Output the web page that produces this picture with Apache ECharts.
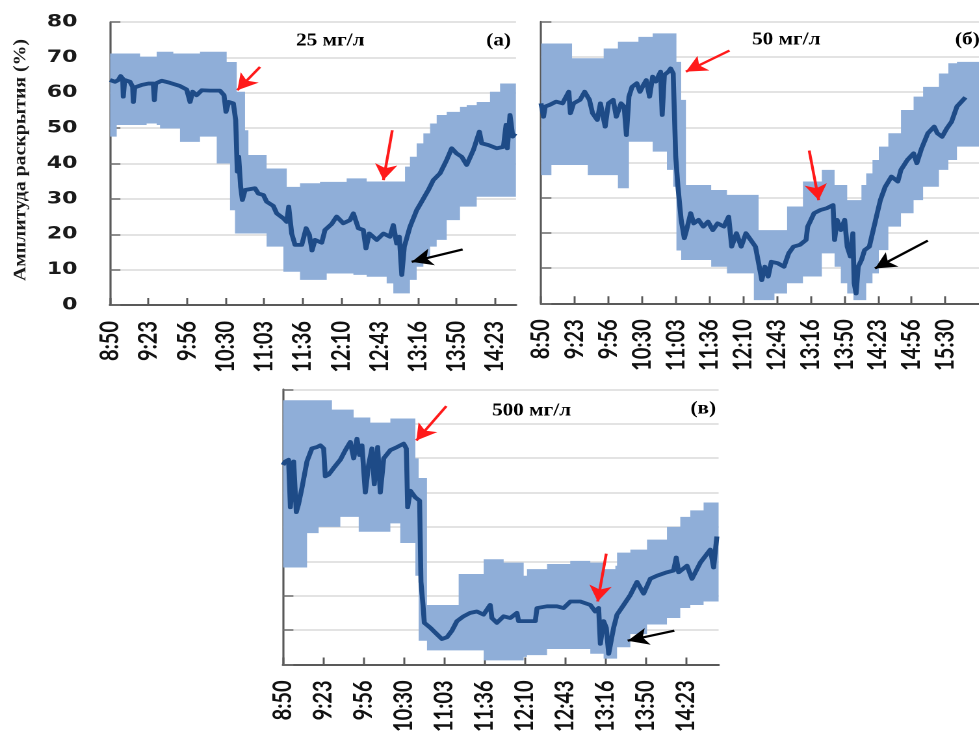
<!DOCTYPE html>
<html><head><meta charset="utf-8">
<script src="https://cdn.jsdelivr.net/npm/echarts@6/dist/echarts.min.js"></script>
<style>
html,body{margin:0;padding:0;background:#fff;overflow:hidden;width:979px;height:735px}
#c{width:753.08px;height:735px;transform:scaleX(1.3);transform-origin:0 0}
</style>
</head><body><div id="c"></div>
<script>
// ---------- tick labels (one every 33 min 20 s = 2000 s from 8:50) ----------
const ticksA = ['8:50','9:23','9:56','10:30','11:03','11:36','12:10','12:43','13:16','13:50','14:23'];
const ticksB = ['8:50','9:23','9:56','10:30','11:03','11:36','12:10','12:43','13:16','13:50','14:23','14:56','15:30'];
const ticksC = ['8:50','9:23','9:56','10:30','11:03','11:36','12:10','12:43','13:16','13:50','14:23'];

// ---------- panel (а) 25 мг/л : minutes after 8:50 ----------
const aBandT  = [0,5.8,26.0,31.7,40.4,43.3,54.8,60.6,77.9,92.4,101.0,103.9,108.2,109.7,116.9,119.8,135.6,150.1,153.0,164.5,181.8,187.6,204.9,210.7,222.2,239.5,245.3,255.4,259.7,265.5,271.3,277.1,282.8,291.5,303.0,308.8,317.5,329.0,337.7,351.5];
const aBandHi = [71.1,71.1,70.2,70.2,71.6,71.6,71.1,71.1,71.6,71.6,68.7,68.7,68.7,60.3,49.4,42.4,38.6,38.6,33.4,34.4,34.8,34.8,35.8,35.8,34.9,34.9,34.9,39.1,41.9,45.7,48.5,51.3,53.7,54.6,56.0,56.5,57.4,60.3,62.6,62.6];
const aBandLo = [47.6,50.9,50.9,51.3,50.9,49.9,49.9,46.1,47.6,40.0,40.0,26.8,20.2,20.2,20.2,20.2,16.5,9.4,9.4,7.1,7.1,8.9,8.9,8.5,8.0,6.1,3.3,3.3,7.1,10.8,13.7,16.5,18.4,24.0,27.8,27.8,30.6,30.6,30.6,30.6];
const aMeanT = [0,4.3,7.2,9.2,11.0,11.5,12.7,17.3,19.6,20.2,21.4,27.4,33.2,37.5,38.4,39.5,44.7,51.9,60.6,66.4,69.3,71.6,75.0,79.4,86.6,95.2,98.7,100.4,102.7,106.8,108.8,110.2,111.4,113.1,114.6,116.9,125.5,128.4,132.8,135.6,141.4,144.3,150.1,153.0,154.7,157.3,160.2,166.0,169.8,172.6,174.9,177.5,183.3,186.1,191.9,196.2,202.0,207.8,210.7,215.0,219.3,221.6,224.5,230.9,236.7,242.4,245.3,248.2,250.5,252.6,254.8,259.7,265.5,269.8,275.6,279.9,285.7,291.5,295.8,300.2,304.5,308.8,314.6,319.8,321.8,327.6,334.8,340.6,342.9,344.0,346.3,348.7,350.7];
const aMean  = [63.6,63.1,63.6,64.7,64.0,58.9,63.6,63.1,61.7,57.4,61.5,62.2,62.6,62.6,57.9,62.6,63.4,62.8,61.9,60.9,57.4,60.3,59.3,60.7,60.6,60.6,59.3,54.6,57.4,57.0,52.3,37.7,41.9,33.4,29.7,32.5,33.0,31.5,31.1,29.2,28.0,25.9,24.5,23.5,27.8,20.2,17.0,17.0,21.7,19.8,15.4,18.4,17.6,21.2,22.9,25.0,23.1,24.0,25.9,21.7,21.2,16.0,20.2,18.4,20.2,19.3,22.6,17.4,19.3,8.5,16.5,22.1,26.8,29.2,32.5,35.3,37.2,41.0,44.3,42.8,41.9,39.6,43.8,49.0,45.7,45.2,44.3,44.7,50.9,44.3,53.7,47.6,48.5];
const aRedArrows   = [[[129.9,67.3],[110.2,60.7]], [[244.4,49.4],[236.7,35.3]]];
const aBlackArrows = [[[305.3,15.7],[261.2,12.2]]];

// ---------- panel (б) 50 мг/л ----------
const bBandT  = [0,10.3,30.7,46.3,62.0,76.1,87.0,96.4,110.5,124.6,130.8,134.0,138.7,143.4,168.4,184.0,210.6,215.3,231.0,243.5,259.2,277.9,290.5,296.7,303.0,309.2,317.1,321.8,328.0,334.3,343.7,356.2,368.7,378.1,393.8,403.1,411.6,434.4];
const bBandHi = [73.8,73.8,69.6,69.6,72.4,74.3,74.3,75.7,76.7,76.7,76.7,68.6,57.8,33.6,32.2,30.8,30.8,20.8,20.8,27.5,34.6,37.9,33.6,33.6,29.3,29.3,33.6,36.9,40.7,44.5,48.3,54.9,58.7,61.5,65.3,68.2,68.6,68.6];
const bBandLo = [36.4,39.3,39.3,36.4,36.4,32.7,45.9,45.9,43.1,37.9,33.1,15.0,12.3,12.3,10.4,8.5,0.9,0.9,2.8,5.7,7.6,14.2,10.4,5.7,2.8,0.9,0.9,5.7,8.5,15.1,21.8,25.6,29.3,33.1,37.9,40.7,44.5,44.5];
const bMeanT = [0,2.5,4.1,8.8,15.0,21.3,27.5,29.1,32.2,38.6,43.2,47.9,51.0,55.7,58.8,63.5,66.7,71.4,74.5,79.2,82.3,84.5,87.0,90.1,94.8,97.9,101.1,104.2,107.4,110.5,113.6,118.3,119.9,122.1,126.1,128.3,130.8,133.3,135.5,138.7,141.8,144.0,148.1,151.2,155.9,160.6,165.3,170.0,174.7,181.0,185.7,188.7,193.4,198.1,202.8,207.5,212.2,216.0,218.5,221.6,224.8,227.9,234.2,240.4,245.1,249.8,256.1,262.3,263.9,267.1,270.2,276.5,282.7,289.0,290.5,293.0,296.7,300.5,303.0,306.1,308.6,309.9,311.8,313.9,317.1,320.2,324.9,328.0,332.7,335.8,340.6,346.8,353.1,356.2,362.5,368.7,371.9,376.6,382.8,389.1,392.2,396.9,401.6,406.3,411.6,420.0];
const bMean  = [56.8,53.0,55.9,56.4,57.3,56.8,60.1,54.0,56.8,57.8,60.1,57.8,54.0,52.1,56.8,50.2,56.8,57.8,53.0,56.8,55.9,47.8,58.7,61.5,62.5,60.1,61.9,63.4,58.7,64.4,63.0,65.8,53.5,64.9,65.8,66.7,65.3,41.7,33.1,23.7,18.5,20.8,25.6,22.7,23.7,21.8,23.2,20.8,22.7,21.8,24.6,16.1,19.9,16.1,19.9,18.0,16.1,10.4,6.6,10.4,7.6,11.8,11.4,10.4,14.2,16.1,16.6,18.0,21.8,23.7,25.6,26.5,27.0,27.9,18.0,23.7,20.8,23.7,16.1,13.3,19.9,5.7,2.8,10.4,12.3,15.1,16.1,19.9,25.6,29.3,33.1,36.0,34.6,37.9,40.7,42.6,39.8,44.0,48.3,50.2,48.3,47.3,49.7,51.6,55.9,58.5];
const bRedArrows   = [[[186.5,71.8],[143.4,65.8]], [[265.4,43.4],[274.8,29.3]]];
const bBlackArrows = [[[382.8,17.8],[330.5,9.9]]];

// ---------- panel (в) 500 мг/л ----------
const cBandT  = [0,19.9,29.5,40.5,47.4,58.4,62.6,72.2,88.8,97.0,109.5,112.2,119.1,145.3,166.0,182.5,199.1,201.8,218.4,237.6,254.2,265.2,274.9,276.3,287.3,301.1,317.6,328.6,336.9,347.9,363.1];
const cBandHi = [76.8,76.8,76.8,74.1,74.1,71.8,71.8,70.3,71.5,71.5,59.9,54.2,17.3,26.3,30.6,29.6,25.8,27.7,29.2,30.1,29.6,27.7,28.7,32.5,33.4,36.3,40.0,42.9,44.8,47.1,47.1];
const cBandLo = [28.2,38.2,40.0,40.0,42.9,42.9,38.6,38.6,41.0,35.3,25.8,6.9,4.1,4.1,1.2,1.2,2.2,2.7,4.5,4.5,3.1,1.7,1.7,5.0,8.8,11.6,13.5,16.4,17.3,18.3,18.3];
const cMeanT = [0,1.9,4.6,6.1,8.8,11.0,12.9,15.7,19.8,23.9,28.1,30.9,33.6,35.0,37.8,41.9,47.4,51.6,55.7,58.5,61.2,63.4,65.3,68.1,70.8,73.6,75.5,78.3,80.5,83.3,88.8,94.3,99.8,102.0,103.1,105.3,109.4,113.0,114.1,115.8,116.9,121.8,127.3,131.4,135.6,139.7,143.9,149.4,154.9,160.4,165.9,171.4,172.8,176.9,182.5,188.0,193.5,194.9,199.0,208.7,210.1,218.3,226.6,232.1,237.7,245.9,254.2,258.3,261.1,262.5,265.2,267.4,269.4,271.3,273.5,276.3,281.8,287.3,292.8,298.3,303.8,309.3,317.6,323.1,325.3,327.3,334.2,338.3,345.2,353.5,356.2,358.9];
const cMean  = [58.0,59.0,59.5,45.7,59.0,44.3,46.7,51.4,59.0,62.8,63.2,63.7,62.8,54.7,55.2,57.1,59.5,62.3,64.7,59.9,65.6,60.9,63.7,50.0,58.0,62.8,52.4,63.2,50.0,59.9,62.3,63.2,64.2,62.8,45.7,50.5,48.6,47.6,24.0,17.3,12.1,10.7,8.8,7.4,7.9,9.8,12.6,14.0,15.0,15.4,14.5,17.3,13.5,12.1,14.0,13.5,15.0,12.6,12.6,12.6,16.4,16.9,16.9,16.4,18.3,18.3,17.3,15.4,16.4,6.0,12.6,10.7,3.1,2.7,10.7,14.5,17.3,20.2,24.0,20.6,24.9,25.8,26.8,27.3,31.1,26.8,28.7,24.9,29.6,33.4,28.2,37.2];
const cRedArrows   = [[[135.1,75.1],[110.3,65.1]], [[267.4,32.2],[260.3,18.3]]];
const cBlackArrows = [[[323.7,9.8],[285.1,6.9]]];

// ---------- layout / style ----------
const SX = 1.3;               // horizontal stretch of the original figure
const BAND = '#8faed8', LINE = '#1e4b87', AXIS = '#595959', GRIDC = '#d9d9d9';
const TICK_S = 2000;          // seconds between x ticks

const grids = [
  {left:110/SX, top:22,    width:406/SX,   height:283},
  {left:541/SX, top:21.7,  width:461.5/SX, height:281.6},
  {left:283/SX, top:389.3, width:435.6/SX, height:281.7}
];
const maxSec = [21090, 26000, 21620];
const tickSets = [ticksA, ticksB, ticksC];

function xAxis(i){
  const ticks = tickSets[i];
  const vals = ticks.map((_,k)=>k*TICK_S);
  return {type:'value', gridIndex:i, min:0, max:maxSec[i], interval:TICK_S,
    splitLine:{show:false},
    axisLine:{show:true, lineStyle:{color:AXIS, width:2}},
    axisTick:{show:true, inside:true, length:7, customValues:vals, lineStyle:{color:AXIS, width:1.5}},
    axisLabel:{show:true, rotate:90, margin:16, customValues:vals, fontFamily:'Lato', fontWeight:'bold', fontSize:20, color:'#111',
      showMinLabel:true, showMaxLabel:true,
      formatter:v => { const k = Math.round(v/TICK_S); return (Math.abs(v-k*TICK_S)<1 && ticks[k]) ? ticks[k] : ''; }}
  };
}
function yAxis(i){
  return {type:'value', gridIndex:i, min:0, max:80, interval:10,
    axisLine:{show:true, lineStyle:{color:AXIS, width:1.6}},
    axisTick:{show:true, inside:true, length:8, lineStyle:{color:'#6f6f6f', width:1.5}},
    splitLine:{show:true, lineStyle:{color:GRIDC, width:1.5}},
    axisLabel:{show:i===0, fontFamily:'DejaVu Sans', fontWeight:'bold', fontSize:17, color:'#1a1a1a', margin:25}
  };
}
function arrowData(list, color){
  return list.map(a => [
    {coord:[a[0][0]*60, a[0][1]], lineStyle:{color:color, width:2.2, type:'solid'}, itemStyle:{color:color}},
    {coord:[a[1][0]*60, a[1][1]]}
  ]);
}
// band (mean ± SD) drawn as one stepped polygon through the axis scales
function bandRender(params, api){
  if (params.dataIndex !== 0) return;
  const n = params.dataInsideLength;
  const up = [], dn = [];
  for (let k = 0; k < n; k++){
    const x0 = api.value(0, k), hi = api.value(2, k), lo = api.value(1, k);
    const x1 = k < n-1 ? api.value(0, k+1) : x0;
    up.push(api.coord([x0, hi]), api.coord([x1, hi]));
    dn.push(api.coord([x0, lo]), api.coord([x1, lo]));
  }
  const pts = up.concat(dn.reverse());
  const cs = params.coordSys;
  return {type:'polygon', shape:{points:pts}, style:{fill:BAND, stroke:null},
    clipPath:{type:'rect', shape:{x:cs.x, y:cs.y, width:cs.width, height:cs.height}}};
}
function panelSeries(i, bt, lo, hi, mt, mv, red, black){
  return [
    {type:'custom', xAxisIndex:i, yAxisIndex:i, silent:true, z:1, renderItem:bandRender,
      encode:{x:0, y:[1,2]}, data: bt.map((t,k)=>[t*60, lo[k], hi[k]])},
    {type:'line', xAxisIndex:i, yAxisIndex:i, symbol:'none', silent:true, z:3,
      lineStyle:{color:LINE, width:3.8, join:'round'}, data: mt.map((t,k)=>[t*60, mv[k]]),
      markLine:{silent:true, animation:false, symbol:['none','arrow'], symbolSize:[13,16],
        label:{show:false}, emphasis:{disabled:true},
        data: arrowData(red,'#ff1a1a').concat(arrowData(black,'#000000'))}}
  ];
}

const serifB = 'bold 18px "Liberation Serif", "Times New Roman", serif';
function label(text, x, y, align){
  return {type:'text', x:x/SX, y:y, scaleX:1.18/SX, z:100, silent:true,
    style:{text:text, font:serifB, fill:'#000', align:align, textAlign:align, verticalAlign:'middle', textVerticalAlign:'middle'}};
}

const option = {
  animation:false,
  grid: grids,
  xAxis: [0,1,2].map(xAxis),
  yAxis: [0,1,2].map(yAxis),
  series: [].concat(
    panelSeries(0, aBandT, aBandLo, aBandHi, aMeanT, aMean, aRedArrows, aBlackArrows),
    panelSeries(1, bBandT, bBandLo, bBandHi, bMeanT, bMean, bRedArrows, bBlackArrows),
    panelSeries(2, cBandT, cBandLo, cBandHi, cMeanT, cMean, cRedArrows, cBlackArrows)
  ),
  graphic: [
    label('25 мг/л', 296, 41, 'left'),
    label('(а)', 511, 41, 'right'),
    label('50 мг/л', 752, 40, 'left'),
    label('(б)', 955, 40, 'left'),
    label('500 мг/л', 492, 411, 'left'),
    label('(в)', 716, 409, 'right'),
    {type:'text', x:20.5/SX, y:160, rotation:Math.PI/2, scaleX:1.1, scaleY:1/SX, z:100, silent:true,
      style:{text:'Амплитуда раскрытия (%)', font:serifB, fill:'#1a1a1a', align:'center', textAlign:'center', verticalAlign:'middle', textVerticalAlign:'middle'}}
  ]
};
const chart = echarts.init(document.getElementById('c'), null, {renderer:'canvas', devicePixelRatio:2});
chart.setOption(option);
</script></body></html>
